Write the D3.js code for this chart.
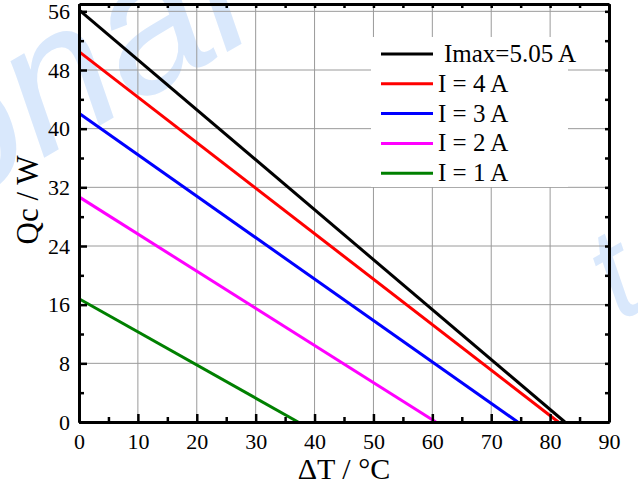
<!DOCTYPE html>
<html>
<head>
<meta charset="utf-8">
<script src="https://cdn.jsdelivr.net/npm/d3@7"></script>
<style>
  body { margin: 0; background: #fff; }
  text { font-family: "Liberation Serif", "Times New Roman", serif; }
  text.wm { font-family: "Liberation Sans", Arial, sans-serif; font-style: italic; }
</style>
</head>
<body>
<div id="chart"></div>
<script>
// series data
const labels = ["Imax=5.05 A", "I = 4 A", "I = 3 A", "I = 2 A", "I = 1 A"];
const qcAtZero = [56.2, 50.5, 42.1, 30.7, 16.8];   // Qc (W) at dT = 0
const dtAtZero = [82.5, 81.4, 74.5, 60.6, 37.2];   // dT (C) at Qc = 0
const colors = ["#000000", "#ff0000", "#0000ff", "#ff00ff", "#008000"];
const xTicks = [0, 10, 20, 30, 40, 50, 60, 70, 80, 90];
const yTicks = [0, 8, 16, 24, 32, 40, 48, 56];

var margin = {top: 4, right: 29, bottom: 66, left: 79},
    width = 638 - margin.left - margin.right,
    height = 488 - margin.top - margin.bottom;

var svg0 = d3.select("#chart").append("svg")
    .attr("width", 638)
    .attr("height", 488);

// faint watermark behind everything (it runs off the edges in the original)
var wm = svg0.append("g").attr("fill", "#d9e8fc");
wm.append("text").attr("class", "wm")
    .attr("transform", "translate(-50,212) rotate(-30)")
    .style("font-size", "190px")
    .text("onal");
wm.append("text").attr("class", "wm")
    .attr("transform", "translate(620,322) rotate(-30)")
    .style("font-size", "130px")
    .text("t");

var svg = svg0.append("g")
    .attr("transform", "translate(" + margin.left + "," + margin.top + ")");

var x = d3.scaleLinear().domain([0, 90]).range([0, width]);
var y = d3.scaleLinear().domain([0, 57]).range([height, 0]);

// grid
svg.append("g").selectAll("line")
  .data(xTicks.slice(1, -1))
  .join("line")
    .attr("x1", d => x(d)).attr("x2", d => x(d))
    .attr("y1", 0).attr("y2", height)
    .attr("stroke", "#9a9a9a").attr("stroke-width", 1);
svg.append("g").selectAll("line")
  .data(yTicks.slice(1))
  .join("line")
    .attr("y1", d => y(d)).attr("y2", d => y(d))
    .attr("x1", 0).attr("x2", width)
    .attr("stroke", "#9a9a9a").attr("stroke-width", 1);

// legend background hides the grid
var lg = {x: 292, y: 33, w: 197, h: 150};
svg.append("rect")
    .attr("x", lg.x).attr("y", lg.y)
    .attr("width", lg.w).attr("height", lg.h)
    .attr("fill", "#fff");

// lines
var series = labels.map((l, i) => ({
  label: l, color: colors[i],
  pts: [{t: 0, q: qcAtZero[i]}, {t: dtAtZero[i], q: 0}]
}));
var line = d3.line().x(d => x(d.t)).y(d => y(d.q));
svg.append("g").selectAll("path")
  .data(series)
  .join("path")
    .attr("fill", "none")
    .attr("stroke", d => d.color)
    .attr("stroke-width", 3)
    .attr("d", d => line(d.pts));

// axes
function styleAxis(g) {
  g.select(".domain").attr("stroke", "#000").attr("stroke-width", 3);
  g.selectAll(".tick line").attr("stroke", "#000").attr("stroke-width", 2.5);
  g.selectAll("text").attr("fill", "#000")
    .style("font-family", "'Liberation Serif', 'Times New Roman', serif")
    .style("font-size", "22px");
}
var minorX = d3.range(5, 90, 10), minorY = d3.range(4, 57, 8);

svg.append("g").attr("transform", "translate(0," + height + ")")
    .call(d3.axisBottom(x).tickValues(xTicks).tickSize(-8).tickPadding(11).tickSizeOuter(0))
    .call(styleAxis);
svg.append("g").attr("transform", "translate(0," + height + ")")
    .call(d3.axisBottom(x).tickValues(minorX).tickSize(-5).tickFormat("").tickSizeOuter(0))
    .call(styleAxis);
svg.append("g")
    .call(d3.axisLeft(y).tickValues(yTicks).tickSize(-8).tickPadding(9).tickSizeOuter(0))
    .call(styleAxis);
svg.append("g")
    .call(d3.axisLeft(y).tickValues(minorY).tickSize(-5).tickFormat("").tickSizeOuter(0))
    .call(styleAxis);
svg.append("g")
    .call(d3.axisTop(x).tickValues(xTicks.concat(minorX)).tickSize(-4).tickFormat("").tickSizeOuter(0))
    .call(styleAxis);
svg.append("g").attr("transform", "translate(" + width + ",0)")
    .call(d3.axisRight(y).tickValues(yTicks.concat(minorY)).tickSize(-4).tickFormat("").tickSizeOuter(0))
    .call(styleAxis);

// legend
var items = svg.append("g").selectAll("g")
  .data(series)
  .join("g")
    .attr("transform", (d, i) => "translate(" + (lg.x + 10) + "," + (lg.y + 17 + i * 29.8) + ")");
items.append("line")
    .attr("x1", 0).attr("x2", 52)
    .attr("stroke", d => d.color).attr("stroke-width", 3);
items.append("text")
    .attr("x", (d, i) => i === 0 ? 63 : 57)
    .attr("y", 8)
    .style("font-size", "25px")
    .text(d => d.label);

// axis titles
svg.append("text")
    .attr("transform", "translate(" + (width / 2) + "," + (height + 57) + ")")
    .style("text-anchor", "middle")
    .style("font-size", "30px")
    .text("\u0394T / \u00b0C");

svg.append("text")
    .attr("transform", "rotate(-90)")
    .attr("y", -margin.left + 38)
    .attr("x", -(height / 2) + 13)
    .style("text-anchor", "middle")
    .style("font-size", "31px")
    .text("Qc / W");
</script>
</body>
</html>
